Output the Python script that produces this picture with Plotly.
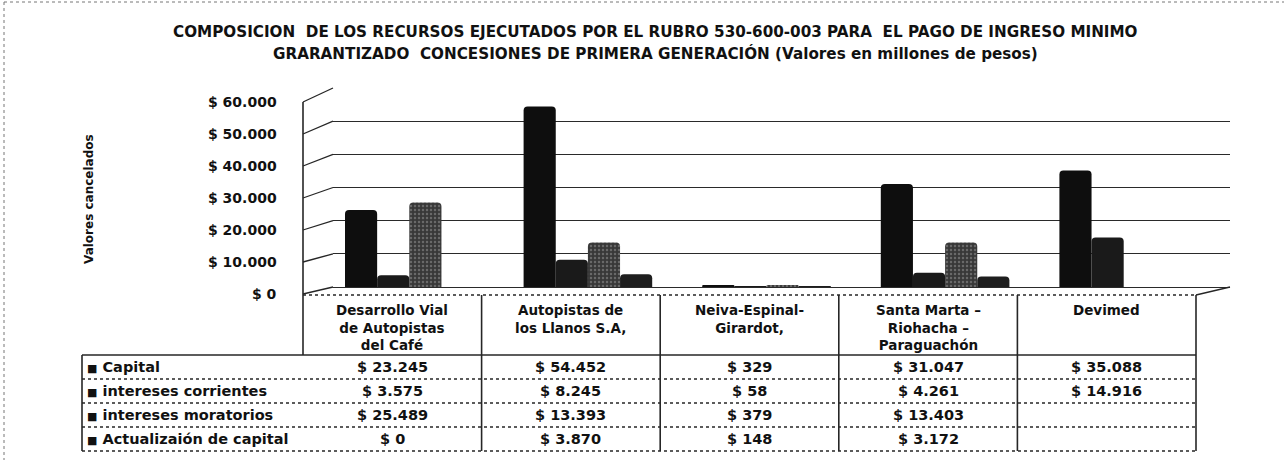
import plotly.graph_objects as go

# ---------------- data ----------------
categories = [
    "Desarrollo Vial<br>de Autopistas<br>del Café",
    "Autopistas de<br>los Llanos S.A,",
    "Neiva-Espinal-<br>Girardot,",
    "Santa Marta –<br>Riohacha –<br>Paraguachón",
    "Devimed",
]
series_names = ["Capital", "intereses corrientes", "intereses moratorios", "Actualizaión de capital"]
capital = [23245, 54452, 329, 31047, 35088]
intereses_corrientes = [3575, 8245, 58, 4261, 14916]
intereses_moratorios = [25489, 13393, 379, 13403, None]
actualizacion_capital = [0, 3870, 148, 3172, None]
tick_values = [0, 10000, 20000, 30000, 40000, 50000, 60000]
tick_labels = ["$ 0", "$ 10.000", "$ 20.000", "$ 30.000", "$ 40.000", "$ 50.000", "$ 60.000"]

title_line1 = "COMPOSICION  DE LOS RECURSOS EJECUTADOS POR EL RUBRO 530-600-003 PARA  EL PAGO DE INGRESO MINIMO"
title_line2 = "GRARANTIZADO  CONCESIONES DE PRIMERA GENERACIÓN (Valores en millones de pesos)"
y_title = "Valores cancelados"

series = [capital, intereses_corrientes, intereses_moratorios, actualizacion_capital]
bar_colors = ["#0e0e0e", "#1a1a1a", "#383838", "#1e1e1e"]

# ---------------- layout geometry (pixels) ----------------
W, H = 1284, 460
FONT = "DejaVu Sans"
TXT = "#111111"


def px(x):
    return x / W


def py(y):
    return 1 - y / H


# back wall (plot area)
BX0, BX1 = 333, 1230
BY_TOP, BY_BOT = 88, 287          # y pixel of 60 000 and 0 on back wall
YMAX = 60000
# front wall
FX = 303
FY_TOP, FY_BOT = 102, 294
# table
TAB_LEFT = 82
COL_W = (1196 - FX) / len(categories)
HEAD_TOP, HEAD_BOT = 295, 355
ROW_H = 24
DEPTH_SHIFT = 17

col_edges = [FX + COL_W * i for i in range(len(categories) + 1)]
centers = [FX + COL_W * (i + 0.5) + DEPTH_SHIFT for i in range(len(categories))]
x_range = [-(centers[0] - BX0) / COL_W, len(categories) - 1 + (BX1 - centers[-1]) / COL_W]


def front_y(v):
    return FY_BOT - v * (FY_BOT - FY_TOP) / YMAX


def back_y(v):
    return BY_BOT - v * (BY_BOT - BY_TOP) / YMAX


fig = go.Figure()
for name, vals, col in zip(series_names, series, bar_colors):
    marker = dict(color=col, line=dict(width=0))
    if name == "intereses moratorios":
        marker["pattern"] = dict(shape=".", fgcolor="#9a9a9a", size=4, solidity=0.3)
    fig.add_trace(go.Bar(
        x=list(range(len(categories))), y=vals, name=name, marker=marker,
    ))

shapes = []
line_col = "#262626"
# left wall diagonals
for v in tick_values:
    shapes.append(dict(type="line", xref="paper", yref="paper",
                       x0=px(FX), y0=py(front_y(v)), x1=px(BX0), y1=py(back_y(v)),
                       line=dict(color=line_col, width=1.3)))
# front-left vertical edge
shapes.append(dict(type="line", xref="paper", yref="paper",
                   x0=px(FX), y0=py(FY_TOP), x1=px(FX), y1=py(HEAD_BOT),
                   line=dict(color=line_col, width=1.6)))
# floor right diagonal
shapes.append(dict(type="line", xref="paper", yref="paper",
                   x0=px(col_edges[-1]), y0=py(HEAD_TOP), x1=px(BX1), y1=py(BY_BOT),
                   line=dict(color=line_col, width=1.3)))
# table horizontal lines
shapes.append(dict(type="line", xref="paper", yref="paper",
                   x0=px(FX), y0=py(HEAD_TOP), x1=px(col_edges[-1]), y1=py(HEAD_TOP),
                   line=dict(color=line_col, width=1.3, dash="dot")))
for r in range(len(series) + 1):
    yy = HEAD_BOT + r * ROW_H
    shapes.append(dict(type="line", xref="paper", yref="paper",
                       x0=px(TAB_LEFT), y0=py(yy), x1=px(col_edges[-1]), y1=py(yy),
                       line=dict(color=line_col, width=1.3, dash="solid" if r == 0 else "dot")))
# table vertical lines
tab_bottom = HEAD_BOT + ROW_H * len(series)
for e in col_edges[1:]:
    shapes.append(dict(type="line", xref="paper", yref="paper",
                       x0=px(e), y0=py(HEAD_TOP), x1=px(e), y1=py(tab_bottom),
                       line=dict(color=line_col, width=1.6)))
shapes.append(dict(type="line", xref="paper", yref="paper",
                   x0=px(TAB_LEFT), y0=py(HEAD_BOT), x1=px(TAB_LEFT), y1=py(tab_bottom),
                   line=dict(color=line_col, width=1.6)))
# outer dotted chart border (left and top)
shapes.append(dict(type="line", xref="paper", yref="paper",
                   x0=px(4), y0=py(2), x1=px(4), y1=py(H),
                   line=dict(color="#777", width=1, dash="dot")))
shapes.append(dict(type="line", xref="paper", yref="paper",
                   x0=px(4), y0=py(2), x1=px(W), y1=py(2),
                   line=dict(color="#777", width=1, dash="dot")))

ann = []
# title
ann.append(dict(text=f"<b>{title_line1}</b>", x=px(656), y=py(32), xref="paper", yref="paper",
                showarrow=False, xanchor="center", yanchor="middle",
                font=dict(family=FONT, size=15.2, color=TXT)))
ann.append(dict(text=f"<b>{title_line2}</b>", x=px(656), y=py(53), xref="paper", yref="paper",
                showarrow=False, xanchor="center", yanchor="middle",
                font=dict(family=FONT, size=15.2, color=TXT)))
# y-axis title
ann.append(dict(text=f"<b>{y_title}</b>", x=px(89), y=py(199), xref="paper", yref="paper",
                showarrow=False, textangle=-90, xanchor="center", yanchor="middle",
                font=dict(family=FONT, size=12, color=TXT)))
# tick labels on front wall
for v, t in zip(tick_values, tick_labels):
    ann.append(dict(text=f"<b>{t}</b>", x=px(279), y=py(front_y(v)), xref="paper", yref="paper",
                    showarrow=False, xanchor="right", yanchor="middle",
                    font=dict(family=FONT, size=14, color=TXT)))
# header (category names)
for i, c in enumerate(categories):
    ann.append(dict(text=f"<b>{c}</b>", x=px((col_edges[i] + col_edges[i + 1]) / 2), y=py(HEAD_TOP + 5),
                    xref="paper", yref="paper", showarrow=False, xanchor="center", yanchor="top",
                    font=dict(family=FONT, size=13.5, color=TXT)))


def fmt(v):
    return "" if v is None else "$ " + f"{v:,}".replace(",", ".")


for r, (name, vals) in enumerate(zip(series_names, series)):
    ymid = HEAD_BOT + ROW_H * (r + 0.5)
    ann.append(dict(text=f"<b><span style='font-size:11px'>■</span> {name}</b>", x=px(TAB_LEFT + 3),
                    y=py(ymid), xref="paper", yref="paper",
                    showarrow=False, xanchor="left", yanchor="middle",
                    font=dict(family=FONT, size=14.5, color=TXT)))
    for i, v in enumerate(vals):
        if v is None:
            continue
        ann.append(dict(text=f"<b>{fmt(v)}</b>", x=px((col_edges[i] + col_edges[i + 1]) / 2), y=py(ymid),
                        xref="paper", yref="paper", showarrow=False, xanchor="center", yanchor="middle",
                        font=dict(family=FONT, size=14.5, color=TXT)))

fig.update_layout(
    width=W, height=H,
    margin=dict(l=0, r=0, t=0, b=0),
    paper_bgcolor="white", plot_bgcolor="white",
    barmode="group", bargap=0.28, bargroupgap=0, barcornerradius=4,
    showlegend=False,
    font=dict(family=FONT, color=TXT),
    xaxis=dict(domain=[px(BX0), px(BX1)], range=x_range, showticklabels=False,
               showgrid=False, zeroline=False, showline=False),
    yaxis=dict(domain=[py(BY_BOT), py(BY_TOP)], range=[0, YMAX], tickvals=tick_values,
               showticklabels=False, showgrid=True, gridcolor="#2a2a2a", gridwidth=1.4,
               zeroline=True, zerolinecolor="#2a2a2a", zerolinewidth=1.4, showline=False),
    shapes=shapes, annotations=ann,
)

fig.write_html("out.html", config={"displayModeBar": False},
               post_script="document.body.style.margin='0';")
